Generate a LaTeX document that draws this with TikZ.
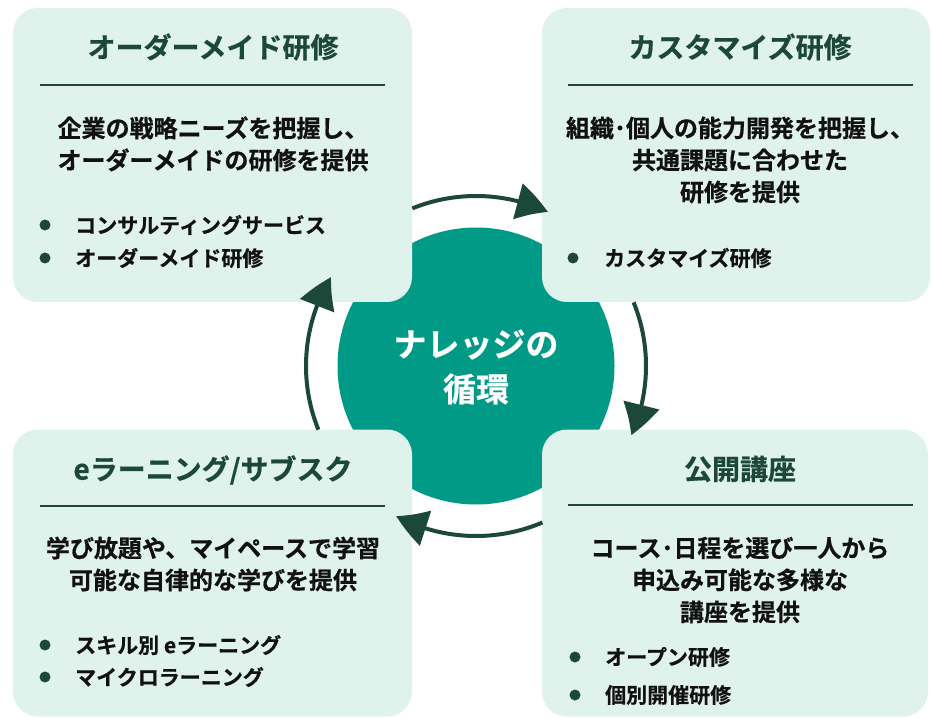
\documentclass[tikz,border=0pt]{standalone}
\usepackage{fontspec}
\usetikzlibrary{arrows.meta,bending}
\newfontfamily\jpb{Noto Sans CJK JP}[BoldFont={Noto Sans CJK JP Bold},BoldFeatures={FakeBold=0.6}]
\definecolor{boxfill}{HTML}{E0F2EC}
\definecolor{teal}{HTML}{009A86}
\definecolor{dkgreen}{HTML}{1B4837}
\definecolor{txt}{HTML}{111111}
\tikzset{
  box/.style={fill=boxfill, rounded corners=25pt, draw=none, inner sep=0pt},
  ttl/.style={font=\jpb\bfseries\fontsize{28}{34}\selectfont, text=dkgreen, inner sep=0pt},
  body/.style={font=\jpb\bfseries\fontsize{24}{32}\selectfont, align=center, text=txt, inner sep=0pt},
  item/.style={font=\jpb\bfseries\fontsize{21}{28}\selectfont, anchor=west, text=txt, inner sep=0pt},
  dot/.style={circle, fill=dkgreen, minimum size=11pt, inner sep=0pt},
  rulel/.style={draw=dkgreen, line width=2pt},
  cyc/.style={draw=dkgreen, line width=4pt, -{Triangle[length=32pt,width=36pt,bend]}},
  ctr/.style={font=\jpb\bfseries\fontsize{33}{45}\selectfont, align=center, text=white, inner sep=0pt},
}
\begin{document}
\begin{tikzpicture}[x=1pt,y=1pt]
\useasboundingbox (0,0) rectangle (932,-719);
% central circle
\node[circle, fill=teal, minimum size=277pt, inner sep=0pt] (ring) at (476,-366) {};
% boxes
\node[box, minimum width=399pt, minimum height=294pt] (tl) at (212.5,-155) {};
\node[box, minimum width=388pt, minimum height=294pt] (tr) at (736,-155) {};
\node[box, minimum width=399pt, minimum height=287pt] (bl) at (212.5,-573) {};
\node[box, minimum width=386pt, minimum height=287pt] (br) at (735,-573) {};
% cycle arrows
\draw[cyc] ([shift={(112:170)}]ring.center) arc[start angle=112, end angle=65, radius=170];
\draw[cyc] ([shift={(22:170)}]ring.center) arc[start angle=22, end angle=-24, radius=170];
\draw[cyc] ([shift={(-67:170)}]ring.center) arc[start angle=-67, end angle=-118, radius=170];
\draw[cyc] ([shift={(-158:170)}]ring.center) arc[start angle=-158, end angle=-211.5, radius=170];
% center text
\node[ctr] (ctext) at (476,-367) {ナレッジの\\循環};
% top-left
\node[ttl] (tlt) at (213,-47) {オーダーメイド研修};
\draw[rulel] (40,-85) -- (385,-85);
\node[body] (tlb) at (213,-144) {企業の戦略ニーズを把握し、\\オーダーメイドの研修を提供};
\node[dot] (tld1) at (45,-225) {};
\node[item] (tli1) at (75,-225) {コンサルティングサービス};
\node[dot] (tld2) at (45,-258) {};
\node[item] (tli2) at (75,-258) {オーダーメイド研修};
% top-right
\node[ttl] (trt) at (740,-47) {カスタマイズ研修};
\draw[rulel] (568,-85) -- (913,-85);
\node[body] (trb) at (740,-160) {組織･個人の能力開発を把握し、\\共通課題に合わせた\\研修を提供};
\node[dot] (trd1) at (573,-258) {};
\node[item] (tri1) at (604,-258) {カスタマイズ研修};
% bottom-left
\node[ttl] (blt) at (213,-470) {eラーニング/サブスク};
\draw[rulel] (40,-506) -- (385,-506);
\node[body] (blb) at (213,-564) {学び放題や、マイペースで学習\\可能な自律的な学びを提供};
\node[dot] (bld1) at (45,-645) {};
\node[item] (bli1) at (75,-645) {スキル別 eラーニング};
\node[dot] (bld2) at (45,-677) {};
\node[item] (bli2) at (75,-677) {マイクロラーニング};
% bottom-right
\node[ttl] (brt) at (740,-469) {公開講座};
\draw[rulel] (568,-505) -- (913,-505);
\node[body] (brb) at (740,-580) {コース･日程を選び一人から\\申込み可能な多様な\\講座を提供};
\node[dot] (brd1) at (575,-657) {};
\node[item] (bri1) at (605,-657) {オープン研修};
\node[dot] (brd2) at (575,-695) {};
\node[item] (bri2) at (605,-695) {個別開催研修};
\end{tikzpicture}
\end{document}
